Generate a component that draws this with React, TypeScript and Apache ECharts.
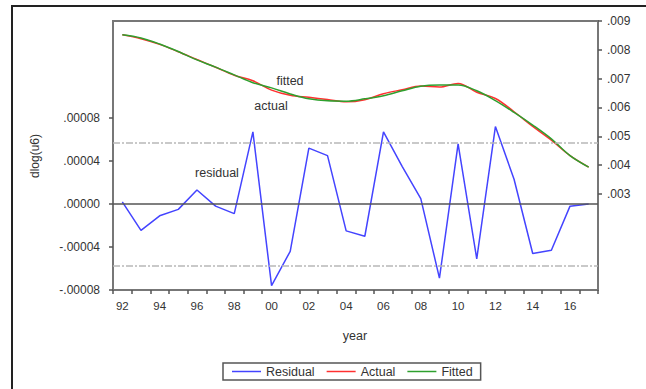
import React, { useEffect, useRef } from "react";
import * as echarts from "echarts";

// Years 1992–2017, labelled with two digits
const years = [
  "92", "93", "94", "95", "96", "97", "98", "99", "00", "01", "02", "03", "04",
  "05", "06", "07", "08", "09", "10", "11", "12", "13", "14", "15", "16", "17",
];

// Residual (left axis)
const residual = [
  0.000002, -0.0000245, -0.000011, -0.000005, 0.000013, -0.000002, -0.000009,
  0.000067, -0.000076, -0.000044, 0.000052, 0.000045, -0.000025, -0.00003,
  0.000067, 0.000035, 0.000005, -0.000069, 0.000056, -0.000051, 0.000072,
  0.000023, -0.000046, -0.000043, -0.000002, 0.0,
];

// Actual and fitted dlog(u6) (right axis)
const actual = [
  0.008522, 0.0083855, 0.008189, 0.007935, 0.007663, 0.007398, 0.007121,
  0.006927, 0.006604, 0.006426, 0.006352, 0.006275, 0.006195, 0.00627,
  0.006477, 0.006615, 0.006745, 0.006711, 0.006836, 0.006529, 0.006312,
  0.005853, 0.005344, 0.004867, 0.004328, 0.00393,
];
const fitted = [
  0.00852, 0.00841, 0.0082, 0.00794, 0.00765, 0.0074, 0.00713, 0.00686,
  0.00668, 0.00647, 0.0063, 0.00623, 0.00622, 0.0063, 0.00641, 0.00658,
  0.00674, 0.00678, 0.00678, 0.00658, 0.00624, 0.00583, 0.00539, 0.00491,
  0.00433, 0.00393,
];

const leftTicks = [-0.00008, -0.00004, 0, 0.00004, 0.00008];
const rightTicks = [0.003, 0.004, 0.005, 0.006, 0.007, 0.008, 0.009];
// ± one standard error band around the residuals
const seBand = 0.0000573;

const FONT = "'Liberation Sans', Arial, sans-serif";
const TEXT = "#333";
const AXIS = "#777";

const dotFormat = (v: number, digits: number) =>
  v.toFixed(digits).replace("0.", ".");

const note = (text: string, x: number, y: number, size = 12.5, rotation = 0) => ({
  type: "text",
  x,
  y,
  rotation,
  silent: true,
  style: {
    text,
    fontSize: size,
    fill: TEXT,
    fontFamily: FONT,
    align: "center",
    verticalAlign: "middle",
  },
});

export default function App() {
  const ref = useRef<HTMLDivElement>(null);

  useEffect(() => {
    if (!ref.current) return;
    const chart = echarts.init(ref.current, null, { renderer: "svg" });
    chart.setOption({
      animation: false,
      backgroundColor: "#fff",
      textStyle: { fontFamily: FONT },
      grid: {
        left: 113,
        top: 21,
        width: 485,
        height: 269,
        show: true,
        borderColor: AXIS,
        borderWidth: 2,
        backgroundColor: "transparent",
      },
      xAxis: {
        type: "category",
        data: years,
        boundaryGap: true,
        axisLine: { show: true, onZero: false, lineStyle: { color: AXIS, width: 2 } },
        axisTick: {
          show: true,
          interval: 0,
          length: 4,
          lineStyle: { color: "#555", width: 1.5 },
        },
        axisLabel: {
          interval: 1,
          margin: 10,
          fontSize: 11.5,
          color: TEXT,
          fontFamily: FONT,
        },
        splitLine: { show: false },
      },
      yAxis: [
        {
          type: "value",
          position: "left",
          min: -0.00008,
          max: 0.0001702,
          axisLine: { show: true, onZero: false, lineStyle: { color: AXIS, width: 2 } },
          axisTick: {
            show: true,
            length: 4,
            customValues: leftTicks,
            lineStyle: { color: "#555", width: 1.5 },
          },
          axisLabel: {
            customValues: leftTicks,
            margin: 13,
            fontSize: 12,
            color: TEXT,
            fontFamily: FONT,
            formatter: (v: number) => dotFormat(v, 5),
          },
          splitLine: { show: false },
        },
        {
          type: "value",
          position: "right",
          min: -0.00033,
          max: 0.009,
          axisLine: { show: true, onZero: false, lineStyle: { color: AXIS, width: 2 } },
          axisTick: {
            show: true,
            length: 4,
            customValues: rightTicks,
            lineStyle: { color: "#555", width: 1.5 },
          },
          axisLabel: {
            customValues: rightTicks,
            margin: 9,
            fontSize: 12,
            color: TEXT,
            fontFamily: FONT,
            formatter: (v: number) => dotFormat(v, 3),
          },
          splitLine: { show: false },
        },
      ],
      legend: {
        left: 223,
        top: 363,
        orient: "horizontal",
        padding: [2, 8, 2, 9],
        itemGap: 12,
        itemWidth: 29,
        itemHeight: 1.5,
        icon: "rect",
        borderColor: "#555",
        borderWidth: 1.5,
        borderRadius: 0,
        textStyle: { fontSize: 12.5, color: TEXT, fontFamily: FONT },
        data: ["Residual", "Actual", "Fitted"],
      },
      series: [
        {
          name: "Residual",
          type: "line",
          yAxisIndex: 0,
          data: residual,
          symbol: "none",
          color: "#4444ff",
          lineStyle: { color: "#4444ff", width: 1.5 },
          z: 4,
          markLine: {
            silent: true,
            symbol: "none",
            precision: 10,
            label: { show: false },
            data: [
              { yAxis: 0, lineStyle: { color: "#555", width: 1.5, type: "solid" } },
              {
                yAxis: seBand,
                lineStyle: { color: "#b8b8b8", width: 1.5, type: [7, 2, 2, 2] },
              },
              {
                yAxis: -seBand,
                lineStyle: { color: "#b8b8b8", width: 1.5, type: [7, 2, 2, 2] },
              },
            ],
          },
        },
        {
          name: "Actual",
          type: "line",
          yAxisIndex: 1,
          data: actual,
          symbol: "none",
          smooth: 0.35,
          color: "#ff3030",
          lineStyle: { color: "#ff3030", width: 1.5 },
          z: 3,
        },
        {
          name: "Fitted",
          type: "line",
          yAxisIndex: 1,
          data: fitted,
          symbol: "none",
          smooth: 0.35,
          color: "#2ea02e",
          lineStyle: { color: "#2ea02e", width: 1.5 },
          z: 3,
        },
      ],
      graphic: [
        {
          type: "rect",
          shape: { x: 12, y: 6, width: 700, height: 500 },
          style: { fill: "none", stroke: "#222", lineWidth: 2 },
          silent: true,
        },
        note("dlog(u6)", 35, 156, 12, Math.PI / 2),
        note("year", 355, 336),
        note("fitted", 290, 81),
        note("actual", 271, 106),
        note("residual", 217, 173),
      ],
    });
    return () => chart.dispose();
  }, []);

  return (
    <div
      ref={ref}
      style={{
        position: "fixed",
        left: 0,
        top: 0,
        width: 646,
        height: 389,
        background: "#fff",
      }}
    />
  );
}
